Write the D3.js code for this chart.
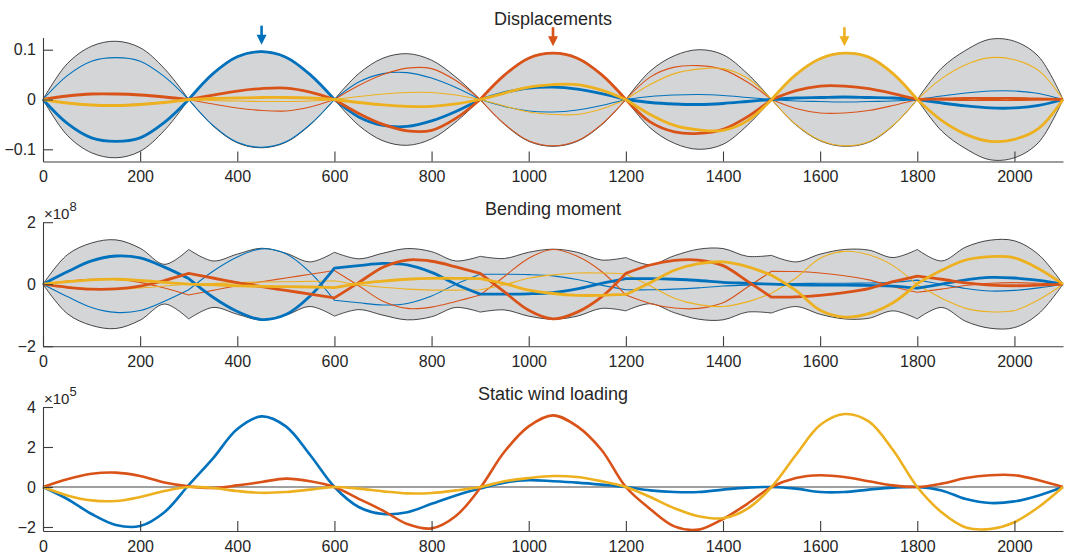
<!DOCTYPE html>
<html><head><meta charset="utf-8">
<script src="https://cdn.jsdelivr.net/npm/d3@7"></script>
<style>
body{margin:0;background:#fff}
svg{display:block}
text{font-family:"Liberation Sans",Arial,Helvetica,sans-serif;fill:#262626}
</style>
</head><body>
<svg id="chart" width="1065" height="554"></svg>
<script>
// ---------- data ----------
const xPositions = [0,50,100,150,200,250,300,350,400,450,500,550,600,650,700,750,800,850,900,950,1000,1050,1100,1150,1200,1250,1300,1350,1400,1450,1500,1550,1600,1650,1700,1750,1800,1850,1900,1950,2000,2050,2100];
const supports = [0,300,600,900,1200,1500,1800,2100];
const xTicks = [0,200,400,600,800,1000,1200,1400,1600,1800,2000];
const titles = ["Displacements","Bending moment","Static wind loading"];
const colors = ["#0072BD","#D95319","#EDB120"];
const arrowX = [450,1050,1650];

// Displacements
const dispBlue   = [0,-0.048,-0.077,-0.084,-0.077,-0.046,0,0.052,0.086,0.096,0.085,0.05,0,-0.035,-0.052,-0.054,-0.043,-0.024,0,0.014,0.023,0.025,0.021,0.012,0,-0.006,-0.009,-0.01,-0.008,-0.004,0,0.003,0.004,0.005,0.004,0.003,0,-0.007,-0.013,-0.017,-0.017,-0.012,0];
const dispOrange = [0,0.007,0.011,0.011,0.009,0.005,0,0.009,0.017,0.022,0.023,0.015,0,-0.028,-0.05,-0.063,-0.062,-0.038,0,0.049,0.083,0.093,0.083,0.05,0,-0.045,-0.065,-0.068,-0.06,-0.035,0,0.018,0.027,0.027,0.022,0.012,0,0.001,0.002,0.002,0.002,0.001,0];
const dispYellow = [0,-0.007,-0.011,-0.012,-0.01,-0.006,0,0.002,0.003,0.004,0.004,0.003,0,-0.006,-0.011,-0.014,-0.014,-0.009,0,0.013,0.025,0.03,0.03,0.019,0,-0.03,-0.052,-0.061,-0.062,-0.043,0,0.05,0.082,0.093,0.085,0.052,0,-0.042,-0.07,-0.084,-0.08,-0.058,0];
const dispBlueThin   = [0,0.048,0.077,0.084,0.077,0.046,0,-0.052,-0.086,-0.096,-0.085,-0.05,0,0.035,0.052,0.054,0.043,0.024,0,-0.014,-0.023,-0.025,-0.021,-0.012,0,0.006,0.009,0.01,0.008,0.004,0,-0.003,-0.004,-0.005,-0.004,-0.003,0,0.007,0.013,0.017,0.017,0.012,0];
const dispOrangeThin = [0,-0.007,-0.011,-0.011,-0.009,-0.005,0,-0.009,-0.017,-0.022,-0.023,-0.015,0,0.028,0.05,0.063,0.062,0.038,0,-0.049,-0.083,-0.093,-0.083,-0.05,0,0.045,0.065,0.068,0.06,0.035,0,-0.018,-0.027,-0.027,-0.022,-0.012,0,-0.001,-0.002,-0.002,-0.002,-0.001,0];
const dispYellowThin = [0,0.007,0.011,0.012,0.01,0.006,0,-0.002,-0.003,-0.004,-0.004,-0.003,0,0.006,0.011,0.014,0.014,0.009,0,-0.013,-0.025,-0.03,-0.03,-0.019,0,0.03,0.052,0.061,0.062,0.043,0,-0.05,-0.082,-0.093,-0.085,-0.052,0,0.042,0.07,0.084,0.08,0.058,0];
const dispEnvUpper = [0,0.072,0.107,0.117,0.104,0.062,0,0.053,0.087,0.097,0.086,0.051,0,0.052,0.083,0.092,0.079,0.045,0,0.05,0.084,0.094,0.084,0.051,0,0.057,0.088,0.1,0.09,0.052,0,0.051,0.083,0.094,0.086,0.053,0,0.063,0.099,0.121,0.117,0.086,0];
const dispEnvLower = [0,-0.072,-0.107,-0.117,-0.104,-0.062,0,-0.053,-0.087,-0.097,-0.086,-0.051,0,-0.052,-0.083,-0.092,-0.079,-0.045,0,-0.05,-0.084,-0.094,-0.084,-0.051,0,-0.057,-0.088,-0.1,-0.09,-0.052,0,-0.051,-0.083,-0.094,-0.086,-0.053,0,-0.063,-0.099,-0.121,-0.117,-0.086,0];

// Bending moment (x 1e8)
const momBlue   = [0,0.4,0.75,0.91,0.85,0.55,0.18,-0.42,-0.88,-1.14,-0.98,-0.38,0.52,0.6,0.67,0.62,0.38,0,-0.32,-0.32,-0.31,-0.27,-0.15,0.03,0.18,0.18,0.16,0.12,0.06,0.03,0,-0.02,-0.03,-0.03,-0.04,-0.06,-0.13,0,0.14,0.22,0.2,0.12,0];
const momOrange = [0,-0.1,-0.16,-0.15,-0.06,0.12,0.35,0.2,0.05,-0.08,-0.2,-0.32,-0.44,0.05,0.55,0.78,0.74,0.56,0.35,-0.25,-0.84,-1.12,-0.9,-0.41,0.35,0.62,0.77,0.78,0.6,0.1,-0.42,-0.41,-0.36,-0.27,-0.14,0.08,0.26,0.16,0.04,-0.03,-0.05,-0.03,0];
const momYellow = [0,0.08,0.14,0.16,0.12,0.06,0,-0.02,-0.05,-0.07,-0.08,-0.09,-0.11,0.02,0.1,0.16,0.19,0.19,0.18,0.02,-0.19,-0.3,-0.36,-0.36,-0.33,0.05,0.45,0.66,0.72,0.57,0.29,-0.2,-0.84,-1.06,-0.95,-0.6,0.02,0.45,0.78,0.89,0.85,0.5,0];
const momBlueThin   = [0,-0.4,-0.75,-0.91,-0.85,-0.55,-0.18,0.42,0.88,1.14,0.98,0.38,-0.52,-0.6,-0.67,-0.62,-0.38,0,0.32,0.32,0.31,0.27,0.15,-0.03,-0.18,-0.18,-0.16,-0.12,-0.06,-0.03,0,0.02,0.03,0.03,0.04,0.06,0.13,0,-0.14,-0.22,-0.2,-0.12,0];
const momOrangeThin = [0,0.1,0.16,0.15,0.06,-0.12,-0.35,-0.2,-0.05,0.08,0.2,0.32,0.44,-0.05,-0.55,-0.78,-0.74,-0.56,-0.35,0.25,0.84,1.12,0.9,0.41,-0.35,-0.62,-0.77,-0.78,-0.6,-0.1,0.42,0.41,0.36,0.27,0.14,-0.08,-0.26,-0.16,-0.04,0.03,0.05,0.03,0];
const momYellowThin = [0,-0.08,-0.14,-0.16,-0.12,-0.06,0,0.02,0.05,0.07,0.08,0.09,0.11,-0.02,-0.1,-0.16,-0.19,-0.19,-0.18,-0.02,0.19,0.3,0.36,0.36,0.33,-0.05,-0.45,-0.66,-0.72,-0.57,-0.29,0.2,0.84,1.06,0.95,0.6,-0.02,-0.45,-0.78,-0.89,-0.85,-0.5,0];
const momEnvUpper = [0,0.95,1.33,1.43,1.16,0.64,1.12,0.75,0.97,1.16,1.0,0.72,1.03,0.82,1.0,1.15,1.05,0.75,0.9,0.83,1.03,1.13,1.03,0.78,0.86,0.63,0.92,1.13,1.15,0.9,0.93,0.72,0.97,1.12,1.1,0.86,1.12,0.75,1.2,1.42,1.4,0.95,0];
const momEnvLower = [0,-0.95,-1.33,-1.43,-1.16,-0.64,-1.12,-0.75,-0.97,-1.16,-1.0,-0.72,-1.03,-0.82,-1.0,-1.15,-1.05,-0.75,-0.9,-0.83,-1.03,-1.13,-1.03,-0.78,-0.86,-0.63,-0.92,-1.13,-1.15,-0.9,-0.93,-0.72,-0.97,-1.12,-1.1,-0.86,-1.12,-0.75,-1.2,-1.42,-1.4,-0.95,0];

// Static wind loading (x 1e5)
const windBlue   = [0,-0.6,-1.35,-1.9,-1.95,-1.26,0.1,1.43,2.9,3.53,3.03,1.6,0,-1.0,-1.35,-1.26,-0.84,-0.42,-0.08,0.22,0.34,0.29,0.22,0.12,0,-0.17,-0.25,-0.25,-0.13,-0.03,0,-0.08,-0.25,-0.25,-0.13,-0.03,0,-0.17,-0.6,-0.8,-0.72,-0.42,0];
const windOrange = [0,0.39,0.66,0.72,0.55,0.22,0.03,-0.05,0.08,0.25,0.42,0.29,0,-0.59,-1.18,-1.85,-2.07,-1.45,-0.05,1.76,3.03,3.58,3.03,1.85,0,-1.1,-1.97,-2.13,-1.6,-0.84,0,0.45,0.59,0.5,0.29,0.08,0,0.17,0.45,0.59,0.59,0.34,0];
const windYellow = [0,-0.42,-0.67,-0.7,-0.5,-0.2,0,-0.05,-0.2,-0.29,-0.25,-0.13,0,-0.08,-0.22,-0.32,-0.3,-0.17,0,0.29,0.45,0.55,0.5,0.29,0,-0.5,-1.06,-1.46,-1.56,-1.09,0,1.6,3.1,3.65,3.28,1.85,0,-1.26,-2.02,-2.1,-1.76,-1.0,0];

const dispTicks = [-0.1,0,0.1];
const momTicks = [-2,0,2];
const windTicks = [-2,0,2,4];

// ---------- layout ----------
const svg = d3.select("#chart");
const X0 = 43, X1 = 1063, PH = 124;
const panelTops = [37.5, 222.2, 407];
const titleBase = [24.5, 215, 400];
const x = d3.scaleLinear().domain([0,2100]).range([X0,X1]);

const panels = [
  {domain:[-0.1245,0.1245], ticks:dispTicks, fmt:d=>d===0?"0":d3.format(".1f")(d), exp:null,
   env:[dispEnvLower,dispEnvUpper], thin:[dispBlueThin,dispOrangeThin,dispYellowThin], thick:[dispBlue,dispOrange,dispYellow]},
  {domain:[-2,2], ticks:momTicks, fmt:d3.format("d"), exp:"8",
   env:[momEnvLower,momEnvUpper], thin:[momBlueThin,momOrangeThin,momYellowThin], thick:[momBlue,momOrange,momYellow]},
  {domain:[-2.2,4], ticks:windTicks, fmt:d3.format("d"), exp:"5",
   env:null, thin:null, thick:[windBlue,windOrange,windYellow]}
];

function pts(vals){ return xPositions.map((xv,i)=>[xv, vals[i]]); }
function spans(vals){
  const p = pts(vals);
  const out = [];
  for(let k=0;k<supports.length-1;k++){
    out.push(p.filter(q=>q[0]>=supports[k] && q[0]<=supports[k+1]));
  }
  return out;
}
const curve = d3.curveCatmullRom.alpha(0.5);
// joins the per-span curves into one continuous path (kinks kept at supports)
function joined(lineGen, segs){
  return segs.map((s,k)=> k===0 ? lineGen(s) : lineGen(s).replace(/^M/,"L")).join("");
}

panels.forEach((P, pi) => {
  const top = panelTops[pi], bottom = top + PH;
  const y = d3.scaleLinear().domain(P.domain).range([bottom, top]);
  const g = svg.append("g");
  const line = d3.line().x(d=>x(d[0])).y(d=>y(d[1])).curve(curve);

  if (P.env) {
    const lo = spans(P.env[0]), hi = spans(P.env[1]);
    const upperD = joined(line, hi);
    const lowerD = joined(line, lo.slice().reverse().map(s=>s.slice().reverse())).replace(/^M/,"L");
    g.append("path").attr("d", upperD + lowerD + "Z").attr("fill","#d4d5d7").attr("stroke","none");
    [upperD, joined(line, lo)].forEach(d => {
      g.append("path").attr("d", d).attr("fill","none").attr("stroke","#1a1a1a").attr("stroke-width",0.8);
    });
  }
  if (pi === 2) {
    g.append("line").attr("x1",x(0)).attr("x2",x(2100)).attr("y1",y(0)).attr("y2",y(0))
      .attr("stroke","#808080").attr("stroke-width",1.6);
  }
  if (P.thin) {
    P.thin.forEach((vals, ci) => {
      g.append("path").attr("d", joined(line, spans(vals)))
        .attr("fill","none").attr("stroke",colors[ci]).attr("stroke-width",1.1);
    });
  }
  P.thick.forEach((vals, ci) => {
    const d = pi === 2 ? line(pts(vals)) : joined(line, spans(vals));
    g.append("path").attr("d", d).attr("fill","none").attr("stroke",colors[ci])
      .attr("stroke-width", pi===2 ? 2.6 : 2.8).attr("stroke-linejoin","round");
  });

  // axes
  const ax = g.append("g").attr("transform",`translate(0,${bottom})`)
    .call(d3.axisBottom(x).tickValues(xTicks).tickFormat(d3.format("d")).tickSizeInner(-10).tickSizeOuter(0).tickPadding(9.5));
  const ay = g.append("g").attr("transform",`translate(${X0},0)`)
    .call(d3.axisLeft(y).tickValues(P.ticks).tickFormat(P.fmt).tickSizeInner(-10).tickSizeOuter(0).tickPadding(7));
  [ax, ay].forEach(a => {
    a.selectAll("path,line").attr("stroke","#3c3c3c").attr("stroke-width",1.1);
    a.selectAll("text").attr("font-size",16).attr("fill","#262626")
      .attr("font-family",'"Liberation Sans",Arial,sans-serif');
  });

  // title
  svg.append("text").attr("x",(X0+X1)/2).attr("y",titleBase[pi]).attr("text-anchor","middle")
    .attr("font-size",18).text(titles[pi]);

  // exponent label
  if (P.exp) {
    const t = svg.append("text").attr("x",X0+1).attr("y",top-3).attr("font-size",15);
    t.append("tspan").text("\u00d710");
    t.append("tspan").attr("dy",-8).attr("font-size",13).text(P.exp);
  }

  // arrows above the peaks in the displacement panel
  if (pi === 0) {
    arrowX.forEach((ax0, ci) => {
      const idx = xPositions.indexOf(ax0);
      const tipY = y(P.thick[ci][idx]) - 7;
      svg.append("line").attr("x1",x(ax0)).attr("x2",x(ax0)).attr("y1",tipY-19).attr("y2",tipY-8)
        .attr("stroke",colors[ci]).attr("stroke-width",2.6);
      svg.append("path")
        .attr("d",`M${x(ax0)-5},${tipY-10}L${x(ax0)+5},${tipY-10}L${x(ax0)},${tipY}Z`)
        .attr("fill",colors[ci]);
    });
  }
});
</script>
</body></html>
